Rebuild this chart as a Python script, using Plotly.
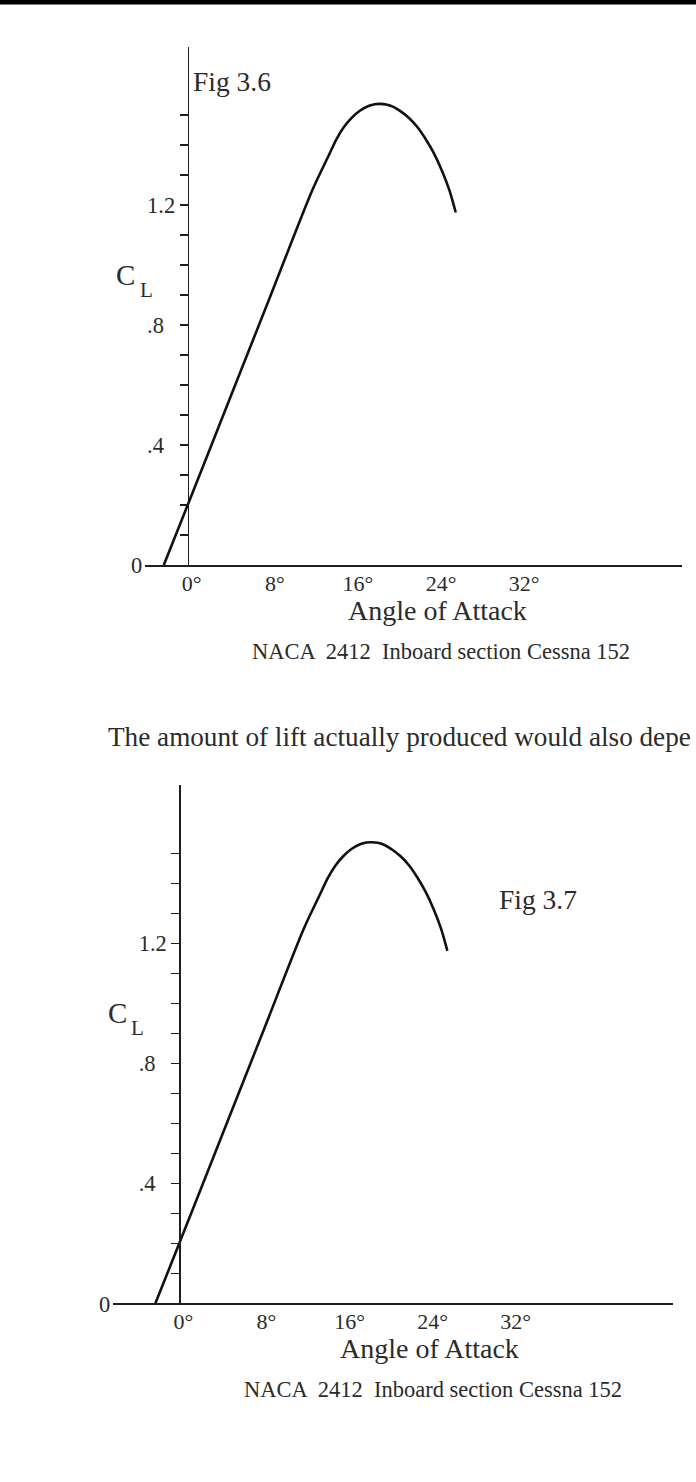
import plotly.graph_objects as go

# ---- data (NACA 2412 lift curve) ----
alpha_deg = [-2.3, 0, 4, 8, 12, 13.5, 14.3, 15.0, 15.8, 16.6, 17.4, 18.0, 18.5, 19.1, 19.8, 20.5, 21.3, 22.1, 22.9, 23.7, 24.5, 25.2, 25.8]
cl_values = [0.0, 0.2, 0.55, 0.90, 1.25, 1.36, 1.418, 1.458, 1.491, 1.515, 1.530, 1.536, 1.537, 1.535, 1.527, 1.512, 1.490, 1.460, 1.420, 1.372, 1.312, 1.248, 1.175]

x_tick_vals = [0, 8, 16, 24, 32]
x_tick_text = ["0°", "8°", "16°", "24°", "32°"]
y_tick_vals = [round(0.1 * i, 1) for i in range(1, 16)]
y_label_map = {0.4: ".4\u00a0\u00a0", 0.8: ".8\u00a0\u00a0", 1.2: "1.2"}
y_tick_text = [y_label_map.get(v, "") for v in y_tick_vals]

fig_titles = ["Fig 3.6", "Fig 3.7"]
x_label = "Angle of Attack"
caption = "NACA  2412  Inboard section Cessna 152"
body_text = "The amount of lift actually produced would also depe"

W, H = 696, 1482
FONT = "Liberation Serif"
INK = "#1e1e1e"
TXT = "#2b2b2b"


def px(x):
    return x / W


def py(y):
    return 1 - y / H


fig = go.Figure()
for i, (xa, ya) in enumerate([("x", "y"), ("x2", "y2")]):
    fig.add_trace(go.Scatter(
        x=alpha_deg, y=cl_values, mode="lines", xaxis=xa, yaxis=ya,
        line=dict(color="#111111", width=2.6, shape="spline", smoothing=0.8),
        hoverinfo="skip", showlegend=False))

# geometry of the two panels (pixels on the page)
panels = [
    dict(left=145, right=682, yaxis_x=187.7, zero_y=565.0, top_y=46.7),
    dict(left=113, right=673, yaxis_x=179.3, zero_y=1303.3, top_y=785.0),
]
px_per_deg = 10.39
cl_top = (565.0 - 46.7) / 300.0

layout = dict(
    width=W, height=H, margin=dict(l=0, r=0, t=0, b=0),
    paper_bgcolor="white", plot_bgcolor="rgba(0,0,0,0)",
    showlegend=False,
)
for i, p in enumerate(panels):
    sfx = "" if i == 0 else "2"
    xr = [(p["left"] - p["yaxis_x"]) / px_per_deg, (p["right"] - p["yaxis_x"]) / px_per_deg]
    layout["xaxis" + sfx] = dict(
        domain=[px(p["left"]), px(p["right"])], range=xr, anchor="y" + sfx,
        showline=True, linecolor=INK, linewidth=1.6, ticks="", showgrid=False,
        zeroline=False, tickvals=x_tick_vals, ticktext=x_tick_text,
        tickfont=dict(family=FONT, size=22, color=TXT), ticklabelshift=4,
        ticklabelstandoff=-2, fixedrange=True)
    layout["yaxis" + sfx] = dict(
        domain=[py(p["zero_y"]), py(p["top_y"])], range=[0, cl_top],
        anchor="free", position=px(p["yaxis_x"]),
        showline=True, linecolor=INK, linewidth=1.6, ticks="outside", ticklen=8,
        tickwidth=1.4, tickcolor=INK, showgrid=False, zeroline=False,
        tickvals=y_tick_vals, ticktext=y_tick_text,
        tickfont=dict(family=FONT, size=22.5, color=TXT), fixedrange=True)
fig.update_layout(**layout)

ann = []


def text(x, y, s, size, xanchor="center", yanchor="middle"):
    ann.append(dict(x=px(x), y=py(y), xref="paper", yref="paper", text=s,
                    showarrow=False, xanchor=xanchor, yanchor=yanchor,
                    font=dict(family=FONT, size=size, color=TXT)))


dxs = [0, -8.4]
dys = [0, 738.3]
for i, p in enumerate(panels):
    dx, dy = dxs[i], dys[i]
    # "0" label at the left end of the x axis
    text(p["left"] - 1, p["zero_y"] + 1, "0", 22.5, xanchor="right")
    # C_L label
    text(114 + dx, 275 + dy, "C", 29, xanchor="left")
    text(137.5 + dx, 290 + dy, "L", 21, xanchor="left")
    text(437.5 + dx, 610 + dy, x_label, 28)
    text(441 + dx, 651 + dy, caption, 22.5)

text(190.5, 82, fig_titles[0], 27.5, xanchor="left")
text(497, 900, fig_titles[1], 27.5, xanchor="left")
text(106, 737, body_text, 27.2, xanchor="left")

fig.update_layout(annotations=ann, shapes=[
    dict(type="rect", xref="paper", yref="paper", x0=0, x1=1, y0=py(4.5), y1=1,
         fillcolor="black", line=dict(width=0), layer="above")])

fig.write_html("out.html", config=dict(displayModeBar=False, staticPlot=True))
